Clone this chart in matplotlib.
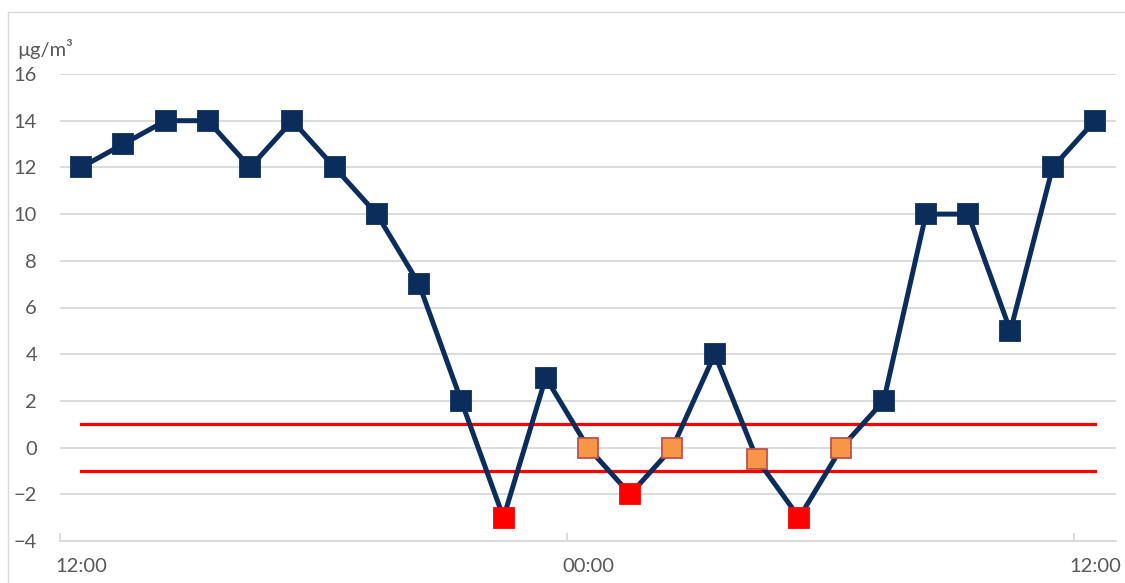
import numpy as np
import matplotlib.pyplot as plt
from matplotlib.lines import Line2D

# hourly values, 12:30 -> 12:30 next day
hours = list(range(25))
values = [12, 13, 14, 14, 12, 14, 12, 10, 7, 2, -3, 3, 0, -2, 0, 4, -0.5, -3, 0, 2, 10, 10, 5, 12, 14]
upper_limit = 1
lower_limit = -1
tick_labels = ['12:00', '00:00', '12:00']
label_pos = [0, 12, 24]
tick_pos = [-0.5, 11.5, 23.5]

navy = '#0B2D5B'
txt = '#595959'
grid_c = '#D9D9D9'

plt.rcParams['font.family'] = ['Lato', 'DejaVu Sans']

fig = plt.figure(figsize=(11.25, 5.83), dpi=100)
ax = fig.add_axes([60 / 1125, 42 / 583, 1056 / 1125, 467 / 583])

# outer frame (left and top only visible)
fig.add_artist(Line2D([8 / 1125, 8 / 1125], [0, 1 - 12 / 583], color=grid_c, lw=1))
fig.add_artist(Line2D([8 / 1125, 1], [1 - 12 / 583, 1 - 12 / 583], color=grid_c, lw=1))

ax.set_ylim(-4, 16)
ax.set_xlim(-0.5, 24.5)
ax.set_yticks(np.arange(-4, 17, 2))
ax.yaxis.grid(True, color=grid_c, lw=1.3)
ax.set_axisbelow(True)

for s in ['left', 'right', 'top']:
    ax.spines[s].set_visible(False)
ax.spines['bottom'].set_color(grid_c)
ax.spines['bottom'].set_linewidth(1.3)

# limit lines
ax.plot([hours[0], hours[-1]], [upper_limit, upper_limit], color='#FF0000', lw=2.3, zorder=2)
ax.plot([hours[0], hours[-1]], [lower_limit, lower_limit], color='#FF0000', lw=2.3, zorder=2)

ax.plot(hours, values, color=navy, lw=3.6, zorder=3)

for h, v in zip(hours, values):
    if v < lower_limit:
        fc, ec = '#FF0000', '#FF0000'
    elif v <= upper_limit:
        fc, ec = '#F79646', '#C0504D'
    else:
        fc, ec = navy, navy
    ax.plot(h, v, marker='s', ms=14, mfc=fc, mec=ec, mew=1.3, zorder=4, ls='none')

ax.set_xticks(tick_pos)
ax.set_xticklabels([])
ax.tick_params(axis='x', which='major', direction='in', length=6, color=grid_c, width=1.3)
ax.set_xticks(label_pos, minor=True)
ax.set_xticklabels(tick_labels, minor=True)
ax.tick_params(axis='x', which='minor', length=0, pad=12, labelsize=14.5, labelcolor=txt)
ax.tick_params(axis='y', length=0, pad=16.5, labelsize=14.5, labelcolor=txt)

fig.text(17 / 1125, 1 - 49 / 583, 'µg/m³', fontsize=14.5, color=txt, va='center', ha='left')

fig.savefig('out.png', dpi=100)
